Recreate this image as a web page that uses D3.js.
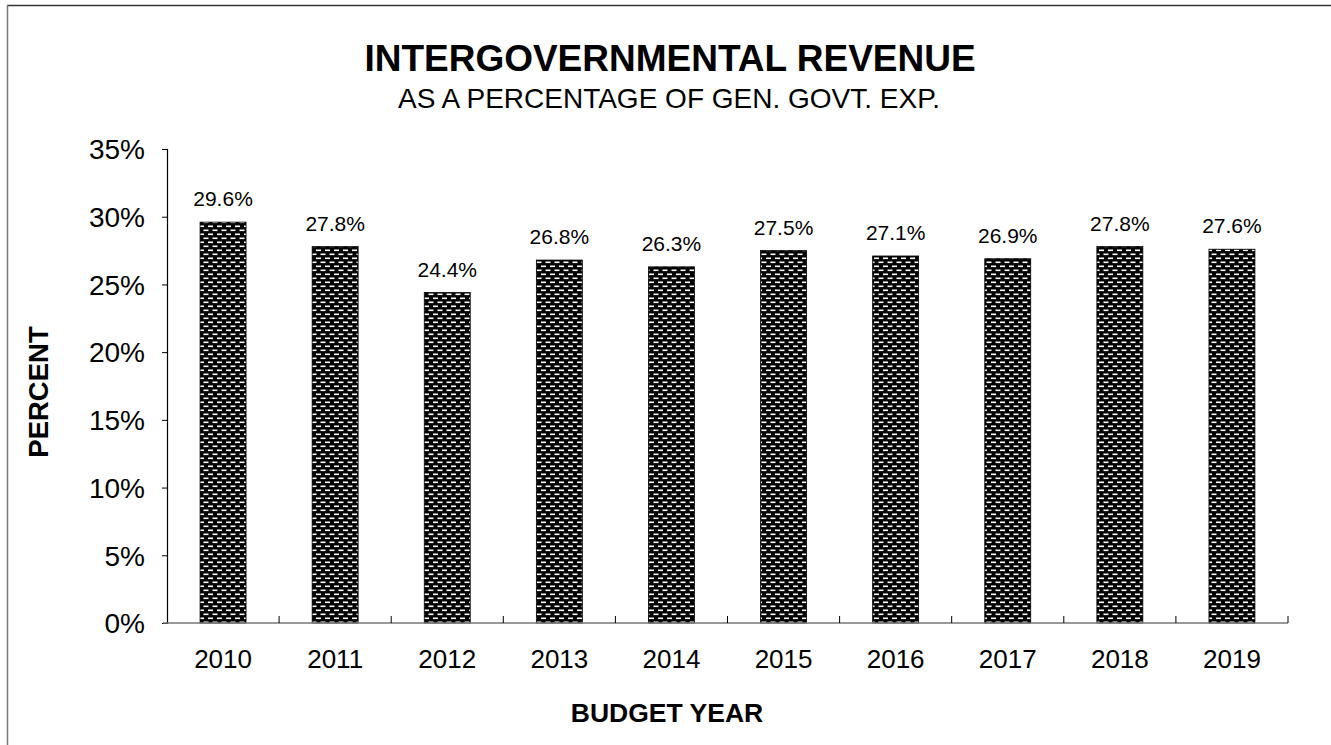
<!DOCTYPE html>
<html>
<head>
<meta charset="utf-8">
<script src="https://cdn.jsdelivr.net/npm/d3@7"></script>
<style>
  html, body { margin: 0; padding: 0; background: #fff; }
  svg { display: block; font-family: Arial, "Liberation Sans", sans-serif; }
</style>
</head>
<body>
<svg id="chart" width="1331" height="745"></svg>
<script>
// Budget years and intergovernmental revenue share (% of general government expenditure)
const years = ["2010", "2011", "2012", "2013", "2014", "2015", "2016", "2017", "2018", "2019"];
const percentValues = [29.6, 27.8, 24.4, 26.8, 26.3, 27.5, 27.1, 26.9, 27.8, 27.6];
const yTicks = [0, 5, 10, 15, 20, 25, 30, 35];

const svg = d3.select("#chart");
const W = 1331, H = 745;
const plot = { left: 167, right: 1288, top: 149, bottom: 623 };

// Frame lines (top and left)
svg.append("line").attr("x1", 7).attr("x2", W).attr("y1", 5.5).attr("y2", 5.5)
  .attr("stroke", "#333").attr("stroke-width", 1.5);
svg.append("line").attr("x1", 7.5).attr("x2", 7.5).attr("y1", 5).attr("y2", H)
  .attr("stroke", "#777").attr("stroke-width", 1.5);

// Staggered dash pattern fill for the bars
const defs = svg.append("defs");
const pat = defs.append("pattern").attr("id", "dashes")
  .attr("patternUnits", "userSpaceOnUse").attr("width", 9).attr("height", 8);
pat.append("rect").attr("width", 9).attr("height", 8).attr("fill", "#000");
pat.append("rect").attr("x", 1).attr("y", 1.5).attr("width", 5).attr("height", 1.6).attr("fill", "#fff");
pat.append("rect").attr("x", 5.5).attr("y", 5.5).attr("width", 5).attr("height", 1.6).attr("fill", "#fff");
pat.append("rect").attr("x", -3.5).attr("y", 5.5).attr("width", 5).attr("height", 1.6).attr("fill", "#fff");

const x = d3.scaleBand().domain(years).range([plot.left, plot.right]).paddingInner(0.59).paddingOuter(0.295);
const y = d3.scaleLinear().domain([0, 35]).range([plot.bottom, plot.top]);

// Title
svg.append("text").attr("x", 670).attr("y", 71).attr("text-anchor", "middle")
  .attr("font-size", 37).attr("font-weight", "bold").text("INTERGOVERNMENTAL REVENUE");
svg.append("text").attr("x", 669).attr("y", 108).attr("text-anchor", "middle")
  .attr("font-size", 28).text("AS A PERCENTAGE OF GEN. GOVT. EXP.");

// Bars
svg.append("g").selectAll("rect").data(years).join("rect")
  .attr("x", d => x(d))
  .attr("y", (d, i) => y(percentValues[i]))
  .attr("width", x.bandwidth())
  .attr("height", (d, i) => y(0) - y(percentValues[i]))
  .attr("fill", "url(#dashes)")
  .attr("stroke", "#000").attr("stroke-width", 0.8);

// Value labels
svg.append("g").selectAll("text").data(years).join("text")
  .attr("x", d => x(d) + x.bandwidth() / 2)
  .attr("y", (d, i) => y(percentValues[i]) - 16)
  .attr("text-anchor", "middle").attr("font-size", 21)
  .text((d, i) => percentValues[i].toFixed(1) + "%");

// Y axis
const yAxis = d3.axisLeft(y).tickValues(yTicks).tickSize(5).tickPadding(17)
  .tickFormat(d => d + "%");
const gy = svg.append("g").attr("transform", `translate(${plot.left},0)`).call(yAxis);
gy.select(".domain").attr("stroke", "#000").attr("stroke-width", 1.2);
gy.selectAll(".tick line").attr("stroke", "#000");
gy.selectAll(".tick text").attr("font-size", 28).attr("font-family", "Arial, 'Liberation Sans', sans-serif")
  .attr("fill", "#000").attr("dy", "0.35em");

// X axis baseline with category boundary ticks pointing up
const boundaries = d3.range(years.length + 1).map(i => plot.left + i * x.step());
svg.append("line").attr("x1", plot.left - 4).attr("x2", plot.right).attr("y1", plot.bottom).attr("y2", plot.bottom)
  .attr("stroke", "#777").attr("stroke-width", 1.5);
svg.append("g").selectAll("line").data(boundaries.slice(1)).join("line")
  .attr("x1", d => d).attr("x2", d => d)
  .attr("y1", plot.bottom).attr("y2", plot.bottom - 7)
  .attr("stroke", "#000");

// X labels
svg.append("g").selectAll("text").data(years).join("text")
  .attr("x", d => x(d) + x.bandwidth() / 2)
  .attr("y", 668).attr("text-anchor", "middle").attr("font-size", 26)
  .text(d => d);

// Axis titles
svg.append("text").attr("x", 667).attr("y", 722).attr("text-anchor", "middle")
  .attr("font-size", 26.5).attr("font-weight", "bold").text("BUDGET YEAR");
svg.append("text").attr("transform", "translate(48,392) rotate(-90)").attr("text-anchor", "middle")
  .attr("font-size", 27.5).attr("font-weight", "bold").text("PERCENT");
</script>
</body>
</html>
